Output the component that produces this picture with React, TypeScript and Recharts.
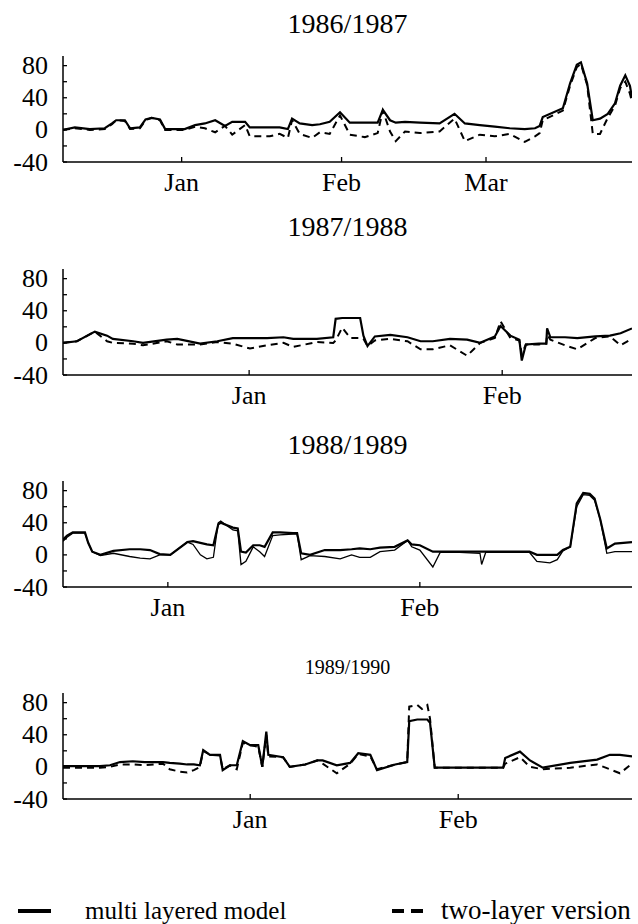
import React from 'react';
import { LineChart, Line, XAxis, YAxis } from 'recharts';

const FONT = "'Liberation Serif', Tinos, 'Times New Roman', 'DejaVu Serif', serif";

// x values are days counted from 1 December of each winter
// ---- 1986/1987 ----
const days8687 = [8, 10.3, 13.2, 16.1, 17.5, 18.3, 20, 21, 22.9, 24, 25.2, 26.8, 27.8, 31.6, 33.6, 35.5, 37.5, 39.4, 40.8, 43.3, 44.2, 48.1, 50, 51.6, 52.4, 53.9, 56.3, 57.8, 59.7, 61.7, 63.6, 66.5, 69, 70, 71.4, 72.5, 74.3, 77.2, 81, 83.9, 85.9, 88.8, 91.7, 94.6, 97.5, 99.5, 100.4, 101, 104.9, 106.3, 107.6, 108.4, 109.6, 110.7, 112.1, 113.6, 115, 116, 117, 117.9, 118.3];
const multi8687 = [0, 3, 1, 2, 8, 12, 12, 2, 3, 13, 15, 13, 1, 1, 6, 8, 12, 5, 10, 10, 3, 3, 3, 1, 14, 8, 6, 7, 10, 22, 9, 9, 9, 25, 12, 9, 10, 9, 8, 20, 8, 6, 4, 2, 1, 2, 5, 16, 27, 58, 81, 84, 58, 12, 14, 20, 33, 55, 68, 55, 40];
const two8687 = [0, 2, 0, 1, 7, 12, 11, 1, 2, 12, 15, 12, 0, 0, 4, 2, -3, 5, -6, 6, -8, -8, -5, -10, 12, -5, -10, -3, -5, 18, -6, -9, -4, 24, -2, -14, -2, -4, -2, 14, -14, -6, -8, -5, -15, -8, -4, 12, 24, 55, 78, 82, 56, -5, -5, 15, 30, 52, 60, 45, 35];
const ticks8687 = [31, 62, 90];
const months8687 = ['Jan', 'Feb', 'Mar'];

// ---- 1987/1988 ----
const days8788 = [8.2, 9.9, 12.1, 13.6, 14.3, 16.8, 18, 20.9, 22.2, 25, 27.1, 29, 31.1, 33.2, 35.2, 36.4, 39.3, 41.3, 41.6, 42.4, 43.4, 44.6, 45, 45.5, 46.4, 48.3, 50.4, 52, 53.5, 55.6, 57.7, 59.3, 61.1, 61.8, 63, 64.1, 64.4, 64.9, 66.5, 67.4, 67.5, 67.9, 69.7, 71.2, 73.4, 75.2, 76.5, 77.9];
const multi8788 = [0, 2, 14, 9, 5, 2, 0, 4, 5, -1, 2, 6, 6, 6, 7, 5, 5, 7, 30, 31, 31, 31, 9, -4, 8, 10, 7, 2, 2, 5, 4, 0, 8, 21, 9, 4, -22, -2, -1, -1, 18, 7, 7, 6, 8, 9, 12, 18];
const two8788 = [0, 2, 14, 2, 0, -1, -3, 2, -2, -2, 1, -1, -7, -3, 0, -5, 1, 0, 3, 19, 6, 6, 5, -4, 3, 5, 2, -8, -8, -3, -16, 0, 6, 27, 6, 3, -14, -2, -2, -1, 10, 4, -3, -8, 6, 8, -3, 5];
const ticks8788 = [31, 62];
const months8788 = ['Jan', 'Feb'];

// ---- 1988/1989 ----
const days8889 = [18.1, 18.6, 19.3, 20.8, 21.2, 21.7, 22.7, 24.3, 26.3, 27.6, 28.8, 30, 31.3, 33.4, 34.1, 35, 35.8, 36.6, 37.2, 37.5, 39, 39.6, 40, 40.6, 41.5, 42.3, 42.9, 43.9, 44.8, 46.4, 46.9, 47.4, 48.5, 50.3, 52.2, 53.6, 54.6, 55.9, 57.1, 58.9, 60.5, 61, 62, 63.6, 64.5, 66.9, 69.4, 69.6, 70.1, 73.1, 75.5, 76.4, 78, 78.9, 79.6, 80.5, 81.3, 82.1, 82.9, 83.5, 84.2, 85, 86, 88.1];
const multi8889 = [19, 24, 28, 28, 15, 4, 0, 5, 7, 7, 6, 1, 0, 16, 17, 15, 13, 12, 38, 40, 34, 33, 4, 3, 12, 12, 10, 28, 28, 27, 27, 2, 0, 6, 6, 7, 8, 7, 9, 10, 18, 13, 12, 4, 4, 4, 4, 4, 4, 4, 4, 0, 0, 0, 6, 10, 64, 77, 76, 70, 44, 8, 14, 16];
const two8889 = [17, 22, 27, 27, 15, 4, -1, 2, -2, -4, -5, 0, 0, 16, 13, 0, -5, -3, 40, 42, 31, 30, -12, -8, 10, 4, -2, 24, 25, 26, 26, -6, -1, -2, -5, 0, -3, -3, 4, 6, 18, 10, 6, -15, 3, 3, 2, -12, 3, 3, 3, -8, -10, -6, 5, 10, 60, 75, 74, 68, 44, 2, 4, 4];
const ticks8889 = [31, 62];
const months8889 = ['Jan', 'Feb'];

// ---- 1989/1990 ----
const days8990 = [3.1, 5.6, 8.6, 10.1, 11.6, 13.5, 15.3, 18, 19, 20.5, 21.6, 22.6, 23.5, 24, 25, 26.5, 26.9, 28, 29, 29.9, 31, 32.2, 32.8, 33.4, 33.7, 35.9, 36.9, 39.2, 41, 41.8, 43.9, 45.9, 47.1, 48.9, 49.9, 52.6, 54.4, 54.7, 55.9, 56.6, 57.4, 57.8, 58.5, 68.7, 69, 71.2, 72.7, 74.6, 78.7, 82.7, 84.6, 86.1, 87.9];
const multi8990 = [1, 1, 1, 2, 6, 7, 6, 6, 5, 4, 3, 3, 2, 21, 15, 15, -4, 2, 2, 32, 27, 27, 0, 44, 15, 12, 0, 3, 8, 8, 2, 5, 17, 15, -4, 3, 6, 57, 59, 59, 59, 55, -1, -1, 11, 19, 8, -1, 5, 9, 15, 15, 13];
const two8990 = [-1, -1, -1, 0, 3, 3, 2, 4, -3, -6, -7, -4, 0, 20, 15, 14, -3, 2, -3, 30, 27, 25, 0, 40, 13, 12, 0, 3, 8, 4, -8, 4, 16, 13, -3, 3, 6, 75, 77, 72, 77, 60, -1, -1, 4, 12, 0, -3, -1, 3, -3, -8, 4];
const ticks8990 = [31, 62];
const months8990 = ['Jan', 'Feb'];

const Y_TICKS = [-40, -20, 0, 20, 40, 60, 80];
const Y_LABELS = [-40, 0, 40, 80];

const BottomTick = ({ x, y, payload, names, values }: any) => {
  const i = values.indexOf(payload.value);
  return (
    <g>
      <line x1={x} x2={x} y1={y} y2={y - 5} stroke="#000" strokeWidth={1.3} />
      <text x={x} y={y + 29} textAnchor="middle" style={{ fontFamily: FONT }} fontSize={26} fill="#000">
        {names[i]}
      </text>
    </g>
  );
};

const TopTick = ({ x, y }: any) => (
  <line x1={x} x2={x} y1={y} y2={y + 5} stroke="#000" strokeWidth={1.3} />
);

const LeftTick = ({ x, y, payload }: any) => (
  <g>
    <line x1={x} x2={x + 4} y1={y} y2={y} stroke="#000" strokeWidth={1.3} />
    {Y_LABELS.includes(payload.value) && (
      <text x={x - 15} y={y} textAnchor="end" dominantBaseline="central" style={{ fontFamily: FONT }} fontSize={26} fill="#000">
        {payload.value}
      </text>
    )}
  </g>
);

const RightTick = ({ x, y }: any) => (
  <line x1={x} x2={x - 4} y1={y} y2={y} stroke="#000" strokeWidth={1.3} />
);

type PanelProps = {
  top: number;
  days: number[];
  multi: number[];
  two: number[];
  ticks: number[];
  months: string[];
  thinSecond?: boolean;
};

const Panel: React.FC<PanelProps> = ({ top, days, multi, two, ticks, months, thinSecond }) => {
  const data = days.map((d, i) => ({ day: d, multi: multi[i], two: two[i] }));
  const domain = [days[0], days[days.length - 1]];
  return (
    <div style={{ position: 'absolute', left: 0, top }}>
      <LineChart width={638} height={156} data={data} margin={{ top: 10, right: 6, bottom: 10, left: 8 }}>
        <XAxis
          dataKey="day"
          type="number"
          domain={domain}
          allowDataOverflow
          ticks={ticks}
          interval={0}
          height={30}
          tickSize={0}
          tickMargin={0}
          tickLine={false}
          axisLine={{ stroke: '#000', strokeWidth: 1.5 }}
          tick={<BottomTick names={months} values={ticks} />}
        />
        <XAxis
          xAxisId="top"
          orientation="top"
          dataKey="day"
          type="number"
          domain={domain}
          allowDataOverflow
          ticks={ticks}
          interval={0}
          height={0}
          tickSize={0}
          tickMargin={0}
          tickLine={false}
          axisLine={{ stroke: '#000', strokeWidth: 1.5 }}
          tick={<TopTick />}
        />
        <YAxis
          type="number"
          domain={[-40, 92]}
          allowDataOverflow
          ticks={Y_TICKS}
          interval={0}
          width={55}
          tickSize={0}
          tickMargin={0}
          tickLine={false}
          axisLine={{ stroke: '#000', strokeWidth: 1.5 }}
          tick={<LeftTick />}
        />
        <YAxis
          yAxisId="right"
          orientation="right"
          type="number"
          domain={[-40, 92]}
          allowDataOverflow
          ticks={Y_TICKS}
          interval={0}
          width={0}
          tickSize={0}
          tickMargin={0}
          tickLine={false}
          axisLine={{ stroke: '#000', strokeWidth: 1.5 }}
          tick={<RightTick />}
        />
        <Line
          type="linear"
          dataKey="two"
          stroke="#000"
          strokeWidth={thinSecond ? 1.3 : 2}
          strokeDasharray={thinSecond ? undefined : '7 5'}
          dot={false}
          isAnimationActive={false}
        />
        <Line type="linear" dataKey="multi" stroke="#000" strokeWidth={2.2} dot={false} isAnimationActive={false} />
      </LineChart>
    </div>
  );
};

const Title: React.FC<{ y: number; size: number; text: string }> = ({ y, size, text }) => (
  <text x={347.5} y={y} textAnchor="middle" style={{ fontFamily: FONT }} fontSize={size} fill="#000">
    {text}
  </text>
);

export default function App() {
  return (
    <div style={{ position: 'absolute', left: 0, top: 0, width: 638, height: 924, background: '#fff', overflow: 'hidden', fontFamily: FONT }}>
      <Panel top={46} days={days8687} multi={multi8687} two={two8687} ticks={ticks8687} months={months8687} />
      <Panel top={259} days={days8788} multi={multi8788} two={two8788} ticks={ticks8788} months={months8788} />
      <Panel top={471} days={days8889} multi={multi8889} two={two8889} ticks={ticks8889} months={months8889} thinSecond />
      <Panel top={683} days={days8990} multi={multi8990} two={two8990} ticks={ticks8990} months={months8990} />
      <svg width={638} height={924} style={{ position: 'absolute', left: 0, top: 0, pointerEvents: 'none' }}>
        <Title y={33} size={28} text="1986/1987" />
        <Title y={236} size={28} text="1987/1988" />
        <Title y={454} size={28} text="1988/1989" />
        <Title y={674} size={20} text="1989/1990" />
        <line x1={18} x2={51} y1={911} y2={911} stroke="#000" strokeWidth={4} />
        <text x={85} y={919} style={{ fontFamily: FONT }} fontSize={25} fill="#000">multi layered model</text>
        <line x1={392} x2={423} y1={911} y2={911} stroke="#000" strokeWidth={4} strokeDasharray="12 7" />
        <text x={441} y={919} style={{ fontFamily: FONT }} fontSize={27} fill="#000">two-layer version</text>
      </svg>
    </div>
  );
}
